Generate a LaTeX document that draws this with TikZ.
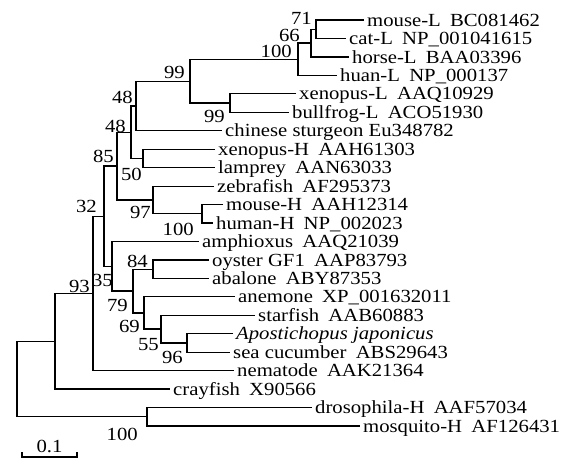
\documentclass[tikz,border=0pt]{standalone}
\usepackage{fontspec}
\setmainfont{Liberation Serif}[FakeStretch=1.12]
\usepackage{tikz}
\usetikzlibrary{positioning,calc}

\begin{document}
\begin{tikzpicture}[
    x=1pt, y=-1pt,
    font=\fontsize{18.5}{20}\selectfont,
    leaf/.style={anchor=west, inner xsep=3pt, inner ysep=0pt, text height=12.2pt, text depth=0pt},
    boot/.style={anchor=base east, inner sep=0pt},
    branch/.style={line width=1.2pt}
]
\useasboundingbox (0,0) rectangle (568,459);

    % Leaves (top to bottom)
    \node[leaf] (mouseL) at (364,20) {mouse-L\enspace BC081462};
    \node[leaf] (catL) at (346,38.5) {cat-L\enspace NP\_001041615};
    \node[leaf] (horseL) at (349,56.9) {horse-L\enspace BAA03396};
    \node[leaf] (huanL) at (337,75.4) {huan-L\enspace NP\_000137};
    \node[leaf] (xenopusL) at (296,93.8) {xenopus-L\enspace AAQ10929};
    \node[leaf] (bullfrogL) at (289,112.3) {bullfrog-L\enspace ACO51930};
    \node[leaf] (chinese) at (222,130.7) {chinese sturgeon Eu348782};
    \node[leaf] (xenopusH) at (215,149.2) {xenopus-H\enspace AAH61303};
    \node[leaf] (lamprey) at (215,167.6) {lamprey\enspace AAN63033};
    \node[leaf] (zebrafish) at (214,186.1) {zebrafish\enspace AF295373};
    \node[leaf] (mouseH) at (223,204.5) {mouse-H\enspace AAH12314};
    \node[leaf] (humanH) at (213,223) {human-H\enspace NP\_002023};
    \node[leaf] (amphioxus) at (199,241.4) {amphioxus\enspace AAQ21039};
    \node[leaf] (oyster) at (209,259.9) {oyster GF1\enspace AAP83793};
    \node[leaf] (abalone) at (209,278.3) {abalone\enspace ABY87353};
    \node[leaf] (anemone) at (235,296.8) {anemone\enspace XP\_001632011};
    \node[leaf] (starfish) at (255,315.2) {starfish\enspace AAB60883};
    \node[leaf] (apost) at (233,333.7) {\textit{Apostichopus japonicus}};
    \node[leaf] (seacuc) at (230,352.1) {sea cucumber\enspace ABS29643};
    \node[leaf] (nematode) at (234,370.6) {nematode\enspace AAK21364};
    \node[leaf] (crayfish) at (170,389) {crayfish\enspace X90566};
    \node[leaf] (drosophila) at (312,407.5) {drosophila-H\enspace AAF57034};
    \node[leaf] (mosquito) at (360,425.9) {mosquito-H\enspace AF126431};

    % Internal nodes
    \coordinate (n71) at (316,29.2);
    \coordinate (n66) at (311,43.05);
    \coordinate (n100L) at (298,59.2);
    \coordinate (n99L) at (230,103);
    \coordinate (n99) at (190,81.1);
    \coordinate (n48a) at (136,105.9);
    \coordinate (n50) at (143,158.4);
    \coordinate (n48b) at (131,132.15);
    \coordinate (n100H) at (202,213.7);
    \coordinate (n97) at (153,199.9);
    \coordinate (n85) at (117,166);
    \coordinate (n84) at (153,269.1);
    \coordinate (n96) at (187,342.9);
    \coordinate (n55) at (161,329.05);
    \coordinate (n69) at (144,312.9);
    \coordinate (n79) at (133,291);
    \coordinate (n35) at (112,266.2);
    \coordinate (n32) at (104,216.1);
    \coordinate (n93) at (93,293.3);
    \coordinate (nC) at (55,341.15);
    \coordinate (n100D) at (147,416.7);
    \coordinate (root) at (17,378.9);

    % Branches
    \draw[branch] (mouseL.west) -| (n71) |- (catL.west);
    \draw[branch] (n71) -| (n66) |- (horseL.west);
    \draw[branch] (n66) -| (n100L) |- (huanL.west);
    \draw[branch] (xenopusL.west) -| (n99L) |- (bullfrogL.west);
    \draw[branch] (n100L) -| (n99) |- (n99L);
    \draw[branch] (n99) -| (n48a) |- (chinese.west);
    \draw[branch] (xenopusH.west) -| (n50) |- (lamprey.west);
    \draw[branch] (n48a) -| (n48b) |- (n50);
    \draw[branch] (mouseH.west) -| (n100H) |- (humanH.west);
    \draw[branch] (zebrafish.west) -| (n97) |- (n100H);
    \draw[branch] (n48b) -| (n85) |- (n97);
    \draw[branch] (oyster.west) -| (n84) |- (abalone.west);
    \draw[branch] (apost.west) -| (n96) |- (seacuc.west);
    \draw[branch] (starfish.west) -| (n55) |- (n96);
    \draw[branch] (anemone.west) -| (n69) |- (n55);
    \draw[branch] (n84) -| (n79) |- (n69);
    \draw[branch] (amphioxus.west) -| (n35) |- (n79);
    \draw[branch] (n85) -| (n32) |- (n35);
    \draw[branch] (n32) -| (n93) |- (nematode.west);
    \draw[branch] (n93) -| (nC) |- (crayfish.west);
    \draw[branch] (drosophila.west) -| (n100D) |- (mosquito.west);
    \draw[branch] (nC) -| (root) |- (n100D);

    % Bootstrap values
    \node[boot] (b71) at (312,24.5) {71};
    \node[boot] (b66) at (300,41.5) {66};
    \node[boot] (b100L) at (292,57.5) {100};
    \node[boot] (b99) at (185,78) {99};
    \node[boot] (b99L) at (225,122) {99};
    \node[boot] (b48a) at (133,103) {48};
    \node[boot] (b48b) at (126,132) {48};
    \node[boot] (b50) at (142,180) {50};
    \node[boot] (b85) at (114,162) {85};
    \node[boot] (b97) at (151,218) {97};
    \node[boot] (b32) at (97,212) {32};
    \node[boot] (b100H) at (194,235) {100};
    \node[boot] (b35) at (113,286) {35};
    \node[boot] (b84) at (148,267) {84};
    \node[boot] (b93) at (90,292) {93};
    \node[boot] (b79) at (128,311) {79};
    \node[boot] (b69) at (140,332) {69};
    \node[boot] (b55) at (159,350) {55};
    \node[boot] (b96) at (183,363) {96};
    \node[boot] (b100D) at (138,440) {100};

    % Scale bar
    \draw[line width=1.1pt] (22,452) -- (22,457) -- (77,457) -- (77,452);
    \node[anchor=base, inner sep=0pt] (scale) at (49.5,452) {0.1};

\end{tikzpicture}
\end{document}
